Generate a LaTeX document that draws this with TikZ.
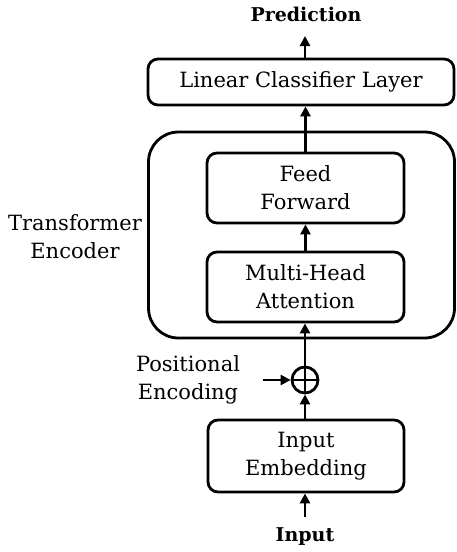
\documentclass[tikz,border=0pt]{standalone}
\usepackage{fontspec}
\setmainfont{DejaVu Serif}
\usetikzlibrary{arrows.meta,calc}
\begin{document}
\begin{tikzpicture}[x=1pt,y=-1pt,
  every node/.style={font=\fontsize{21}{28}\selectfont},
  box/.style={draw,line width=2.8pt,rounded corners=10pt,align=center,inner sep=0pt},
  lbl/.style={align=center,inner sep=0pt},
  arr/.style={line width=2.8pt,-{Triangle[length=10pt,width=10pt]}},
  line/.style={line width=2.8pt}]
\useasboundingbox (0,0) rectangle (456,552);
\node[lbl,font=\fontsize{19}{24}\selectfont\bfseries] (pred) at (306,14) {Prediction};
\node[box,minimum width=306pt,minimum height=46pt] (lin) at (301,82) {Linear Classifier Layer};
\node[draw,line width=2.8pt,rounded corners=30pt,minimum width=306pt,minimum height=206pt,inner sep=0pt] (enc) at (301.5,235) {};
\node[box,minimum width=197pt,minimum height=70pt] (ff) at (305.5,188) {Feed\\Forward};
\node[box,minimum width=197pt,minimum height=70pt] (mha) at (305.5,287) {Multi-Head\\Attention};
\node[lbl] (enclbl) at (75,237) {Transformer\\Encoder};
\node[draw,circle,line width=2.8pt,minimum size=26pt,inner sep=0pt] (add) at (305,380) {};
\draw[line] (add.north) -- (add.south) (add.west) -- (add.east);
\node[lbl] (poslbl) at (188,380) {Positional\\Encoding};
\node[box,minimum width=196pt,minimum height=72pt] (emb) at (306,456) {Input\\Embedding};
\node[lbl,font=\fontsize{19}{24}\selectfont\bfseries] (inp) at (305,537) {Input};
\coordinate (posin) at (263,380);
\coordinate (inptop) at (305,517);
\coordinate (predbot) at (305,36);
\draw[arr] (inptop) -- (emb.south -| inptop);
\draw[arr] (emb.north -| add) -- (add.south);
\draw[arr] (posin) -- (add.west);
\draw[arr] (add.north) -- (mha.south -| add);
\draw[arr] (mha.north) -- (ff.south);
\draw[arr] (ff.north) -- (ff.north |- lin.south);
\draw[arr] (lin.north -| predbot) -- (predbot);
\end{tikzpicture}
\end{document}
